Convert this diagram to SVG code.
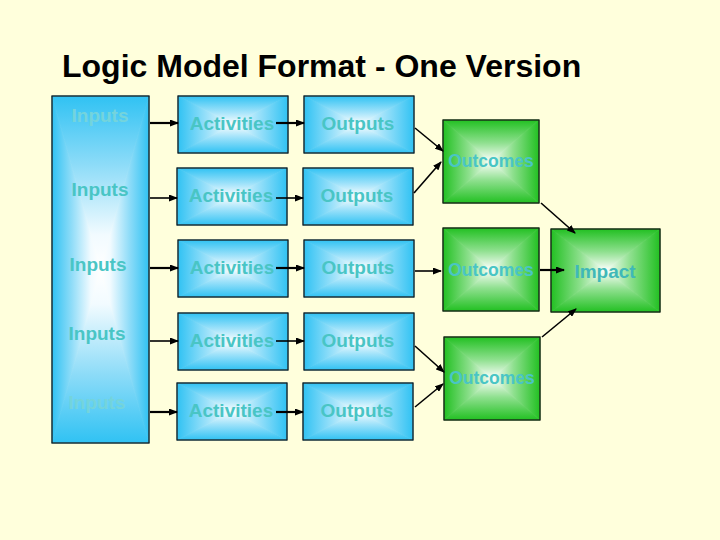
<svg xmlns="http://www.w3.org/2000/svg" xmlns:xlink="http://www.w3.org/1999/xlink" width="720" height="540" viewBox="0 0 720 540">
<style>
.lbl{font-family:"Liberation Sans",Arial,sans-serif;font-weight:bold;font-size:19px;fill:#49c5c5;text-anchor:middle}
.faint{fill:#74d4dc}
.oc{font-size:17.5px}
.title{font-family:"Liberation Sans",Arial,sans-serif;font-weight:bold;font-size:32px;fill:#000}
.bd{fill:none;stroke:#1a1a1a;stroke-width:1.3}
.cn{stroke:#000;stroke-width:1.6;fill:none;marker-end:url(#ah)}
.tk{stroke-width:2.2}
</style>
<defs>
<marker id="ah" markerUnits="userSpaceOnUse" markerWidth="9" markerHeight="7" refX="8" refY="3.5" orient="auto"><path d="M0,0 L9,3.5 L0,7 z" fill="#000"/></marker>
<linearGradient id="bD" x1="0" y1="0" x2="0" y2="1"><stop offset="0" stop-color="#30c2f3"/><stop offset="0.55" stop-color="#9fe2fa"/><stop offset="1" stop-color="#ffffff"/></linearGradient>
<linearGradient id="bU" x1="0" y1="1" x2="0" y2="0"><stop offset="0" stop-color="#30c2f3"/><stop offset="0.55" stop-color="#9fe2fa"/><stop offset="1" stop-color="#ffffff"/></linearGradient>
<linearGradient id="bR" x1="0" y1="0" x2="1" y2="0"><stop offset="0" stop-color="#30c2f3"/><stop offset="0.55" stop-color="#9fe2fa"/><stop offset="1" stop-color="#ffffff"/></linearGradient>
<linearGradient id="bL" x1="1" y1="0" x2="0" y2="0"><stop offset="0" stop-color="#30c2f3"/><stop offset="0.55" stop-color="#9fe2fa"/><stop offset="1" stop-color="#ffffff"/></linearGradient>
<linearGradient id="iR" x1="0" y1="0" x2="1" y2="0"><stop offset="0" stop-color="#30c2f3"/><stop offset="0.4" stop-color="#8edcf8"/><stop offset="0.8" stop-color="#f2fbff"/><stop offset="1" stop-color="#ffffff"/></linearGradient>
<linearGradient id="iL" x1="1" y1="0" x2="0" y2="0"><stop offset="0" stop-color="#30c2f3"/><stop offset="0.4" stop-color="#8edcf8"/><stop offset="0.8" stop-color="#f2fbff"/><stop offset="1" stop-color="#ffffff"/></linearGradient>
<linearGradient id="iD" x1="0" y1="0" x2="0" y2="1"><stop offset="0" stop-color="#30c2f3"/><stop offset="0.4" stop-color="#8edcf8"/><stop offset="0.8" stop-color="#f2fbff"/><stop offset="1" stop-color="#ffffff"/></linearGradient>
<linearGradient id="iU" x1="0" y1="1" x2="0" y2="0"><stop offset="0" stop-color="#30c2f3"/><stop offset="0.4" stop-color="#8edcf8"/><stop offset="0.8" stop-color="#f2fbff"/><stop offset="1" stop-color="#ffffff"/></linearGradient>
<linearGradient id="gD" x1="0" y1="0" x2="0" y2="1"><stop offset="0" stop-color="#22c022"/><stop offset="0.55" stop-color="#8fe08f"/><stop offset="1" stop-color="#ffffff"/></linearGradient>
<linearGradient id="gU" x1="0" y1="1" x2="0" y2="0"><stop offset="0" stop-color="#22c022"/><stop offset="0.55" stop-color="#8fe08f"/><stop offset="1" stop-color="#ffffff"/></linearGradient>
<linearGradient id="gR" x1="0" y1="0" x2="1" y2="0"><stop offset="0" stop-color="#22c022"/><stop offset="0.55" stop-color="#8fe08f"/><stop offset="1" stop-color="#ffffff"/></linearGradient>
<linearGradient id="gL" x1="1" y1="0" x2="0" y2="0"><stop offset="0" stop-color="#22c022"/><stop offset="0.55" stop-color="#8fe08f"/><stop offset="1" stop-color="#ffffff"/></linearGradient>
<g id="blueBox">
<polygon points="0,0 110,0 55,28.5" fill="url(#bD)" stroke="url(#bD)" stroke-width="0.8"/>
<polygon points="0,57 110,57 55,28.5" fill="url(#bU)" stroke="url(#bU)" stroke-width="0.8"/>
<polygon points="0,0 55,28.5 0,57" fill="url(#bR)" stroke="url(#bR)" stroke-width="0.8"/>
<polygon points="110,0 55,28.5 110,57" fill="url(#bL)" stroke="url(#bL)" stroke-width="0.8"/>
<rect x="0" y="0" width="110" height="57" class="bd"/>
</g>
<g id="greenBox">
<polygon points="0,0 96,0 48,41.5" fill="url(#gD)" stroke="url(#gD)" stroke-width="0.8"/>
<polygon points="0,83 96,83 48,41.5" fill="url(#gU)" stroke="url(#gU)" stroke-width="0.8"/>
<polygon points="0,0 48,41.5 0,83" fill="url(#gR)" stroke="url(#gR)" stroke-width="0.8"/>
<polygon points="96,0 48,41.5 96,83" fill="url(#gL)" stroke="url(#gL)" stroke-width="0.8"/>
<rect x="0" y="0" width="96" height="83" class="bd"/>
</g>
</defs>
<rect width="720" height="540" fill="#ffffdc"/>
<text class="title" x="62" y="77">Logic Model Format - One Version</text>

<g id="inputs">
<polygon points="52,96 149,96 100.5,269.5" fill="url(#iD)" stroke="url(#iD)" stroke-width="0.8"/>
<polygon points="52,443 149,443 100.5,269.5" fill="url(#iU)" stroke="url(#iU)" stroke-width="0.8"/>
<polygon points="52,96 100.5,269.5 52,443" fill="url(#iR)" stroke="url(#iR)" stroke-width="0.8"/>
<polygon points="149,96 100.5,269.5 149,443" fill="url(#iL)" stroke="url(#iL)" stroke-width="0.8"/>
<rect x="52" y="96" width="97" height="347" class="bd"/>
<text class="lbl faint" x="100" y="122">Inputs</text>
<text class="lbl" x="100" y="196">Inputs</text>
<text class="lbl" x="98" y="271">Inputs</text>
<text class="lbl" x="97" y="340">Inputs</text>
<text class="lbl faint" x="97" y="409">Inputs</text>
</g>

<g id="activities1"><use xlink:href="#blueBox" x="178" y="96"/><text class="lbl" x="232" y="130">Activities</text></g>
<g id="activities2"><use xlink:href="#blueBox" x="177" y="168"/><text class="lbl" x="231" y="202">Activities</text></g>
<g id="activities3"><use xlink:href="#blueBox" x="178" y="240"/><text class="lbl" x="232" y="274">Activities</text></g>
<g id="activities4"><use xlink:href="#blueBox" x="178" y="313"/><text class="lbl" x="232" y="347">Activities</text></g>
<g id="activities5"><use xlink:href="#blueBox" x="177" y="383"/><text class="lbl" x="231" y="417">Activities</text></g>

<g id="outputs1"><use xlink:href="#blueBox" x="304" y="96"/><text class="lbl" x="358" y="130">Outputs</text></g>
<g id="outputs2"><use xlink:href="#blueBox" x="303" y="168"/><text class="lbl" x="357" y="202">Outputs</text></g>
<g id="outputs3"><use xlink:href="#blueBox" x="304" y="240"/><text class="lbl" x="358" y="274">Outputs</text></g>
<g id="outputs4"><use xlink:href="#blueBox" x="304" y="313"/><text class="lbl" x="358" y="347">Outputs</text></g>
<g id="outputs5"><use xlink:href="#blueBox" x="303" y="383"/><text class="lbl" x="357" y="417">Outputs</text></g>

<g id="outcomes1"><use xlink:href="#greenBox" x="443" y="120"/><text class="lbl oc" x="491" y="167">Outcomes</text></g>
<g id="outcomes2"><use xlink:href="#greenBox" x="443" y="228"/><text class="lbl oc" x="491" y="276">Outcomes</text></g>
<g id="outcomes3"><use xlink:href="#greenBox" x="444" y="337"/><text class="lbl oc" x="492" y="384">Outcomes</text></g>

<g id="impact">
<polygon points="551,229 660,229 605.5,270.5" fill="url(#gD)" stroke="url(#gD)" stroke-width="0.8"/>
<polygon points="551,312 660,312 605.5,270.5" fill="url(#gU)" stroke="url(#gU)" stroke-width="0.8"/>
<polygon points="551,229 605.5,270.5 551,312" fill="url(#gR)" stroke="url(#gR)" stroke-width="0.8"/>
<polygon points="660,229 605.5,270.5 660,312" fill="url(#gL)" stroke="url(#gL)" stroke-width="0.8"/>
<rect x="551" y="229" width="109" height="83" class="bd"/>
<text class="lbl" x="605" y="278" style="fill:#3fb8b8">Impact</text>
</g>

<g id="connectors">
<line class="cn tk" x1="150" y1="123" x2="178" y2="123"/>
<line class="cn" x1="150" y1="198" x2="177" y2="198"/>
<line class="cn tk" x1="150" y1="268" x2="178" y2="268"/>
<line class="cn" x1="150" y1="341" x2="178" y2="341"/>
<line class="cn tk" x1="150" y1="412" x2="177" y2="412"/>
<line class="cn tk" x1="276" y1="123" x2="304" y2="123"/>
<line class="cn" x1="276" y1="198" x2="303" y2="198"/>
<line class="cn tk" x1="276" y1="268" x2="304" y2="268"/>
<line class="cn" x1="276" y1="341" x2="304" y2="341"/>
<line class="cn tk" x1="276" y1="412" x2="303" y2="412"/>
<line class="cn" x1="415" y1="128" x2="443" y2="151"/>
<line class="cn" x1="414" y1="193" x2="441" y2="162"/>
<line class="cn" x1="415" y1="271" x2="441" y2="271"/>
<line class="cn" x1="415" y1="346" x2="444" y2="372"/>
<line class="cn" x1="415" y1="407" x2="443" y2="384"/>
<line class="cn" x1="541" y1="203" x2="575" y2="233"/>
<line class="cn tk" x1="540" y1="270" x2="564" y2="270"/>
<line class="cn" x1="542" y1="337" x2="576" y2="309"/>
</g>
</svg>
